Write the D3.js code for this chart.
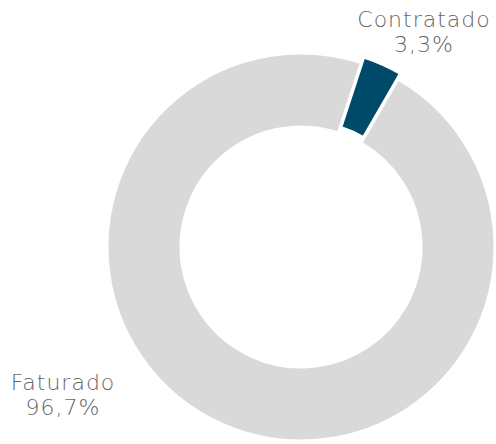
<!DOCTYPE html>
<html>
<head>
<meta charset="utf-8">
<script src="https://cdn.jsdelivr.net/npm/d3@7"></script>
<style>
  body { margin: 0; background: #fff; }
  text { font-family: "DejaVu Sans", sans-serif; font-weight: 200; fill: #666; }
</style>
</head>
<body>
<div id="chart"></div>
<script>
// Data
const categories = ["Faturado", "Contratado"];
const values = [96.7, 3.3];
const valueLabels = ["96,7%", "3,3%"];
const colors = ["#d9d9d9", "#004a69"];

const width = 496;
const height = 444;
const cx = 301, cy = 247;
const outerR = 194, innerR = 120;

const svg = d3.select("#chart")
  .append("svg")
  .attr("width", width)
  .attr("height", height);

const g = svg.append("g").attr("transform", `translate(${cx},${cy})`);

// Faturado first, starting just after the small slice
const pie = d3.pie()
  .sort(null)
  .startAngle(30 * Math.PI / 180)
  .endAngle(390 * Math.PI / 180);

const arcs = pie(values);
const arc = d3.arc().innerRadius(innerR).outerRadius(outerR);

// Pull the small slice out a bit
const explode = d => {
  if (d.index !== 1) return [0, 0];
  const mid = (d.startAngle + d.endAngle) / 2;
  return [Math.sin(mid) * 6, -Math.cos(mid) * 6];
};

g.selectAll("path")
  .data(arcs)
  .enter()
  .append("path")
  .attr("d", arc)
  .attr("transform", d => `translate(${explode(d)})`)
  .attr("fill", (d, i) => colors[i])
  .attr("stroke", "#fff")
  .attr("stroke-width", 3)
  .attr("stroke-linejoin", "miter");

// Labels (placed by hand outside the ring)
const labelPos = [[63, 390], [424, 27]];

const labels = svg.selectAll("g.label")
  .data(categories)
  .enter()
  .append("g")
  .attr("class", "label")
  .attr("transform", (d, i) => `translate(${labelPos[i]})`);

labels.append("text")
  .attr("text-anchor", "middle")
  .attr("font-size", 22)
  .attr("letter-spacing", 1)
  .text(d => d);

labels.append("text")
  .attr("text-anchor", "middle")
  .attr("y", 25)
  .attr("font-size", 22)
  .attr("letter-spacing", 1)
  .text((d, i) => valueLabels[i]);
</script>
</body>
</html>
